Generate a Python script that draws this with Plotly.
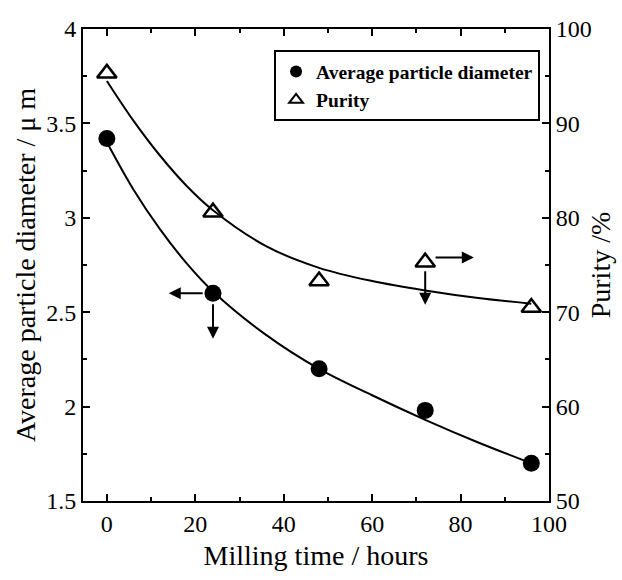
import plotly.graph_objects as go

# measured data
milling_hours = [0, 24, 48, 72, 96]
diameter_um = [3.42, 2.60, 2.20, 1.98, 1.70]
purity_pct = [95.3, 80.6, 73.3, 75.3, 70.5]

# fitted curves
curve_hours = [0, 6, 12, 18, 24, 36, 48, 60, 72, 84, 96]
diameter_curve = [3.40, 3.15, 2.94, 2.76, 2.61, 2.38, 2.20, 2.06, 1.93, 1.81, 1.70]
purity_curve = [94.5, 90.3, 86.6, 83.4, 80.8, 77.0, 74.7, 73.3, 72.3, 71.5, 70.9]

FONT = "Liberation Serif"

fig = go.Figure()
fig.add_trace(go.Scatter(x=curve_hours, y=diameter_curve, mode="lines",
                         line=dict(color="black", width=2, shape="spline"),
                         showlegend=False, hoverinfo="skip"))
fig.add_trace(go.Scatter(x=curve_hours, y=purity_curve, mode="lines", yaxis="y2",
                         line=dict(color="black", width=2, shape="spline"),
                         showlegend=False, hoverinfo="skip"))
fig.add_trace(go.Scatter(x=milling_hours, y=diameter_um, mode="markers",
                         name="Average particle diameter",
                         marker=dict(symbol="circle", size=17, color="black")))
fig.add_trace(go.Scatter(x=milling_hours, y=purity_pct, mode="markers", yaxis="y2",
                         name="Purity",
                         marker=dict(symbol="triangle-up-open", size=17, color="black",
                                     line=dict(width=2.5, color="black"))))

arrow = dict(showarrow=True, arrowhead=2, arrowsize=1.2, arrowwidth=2,
             arrowcolor="black", text="")
fig.add_annotation(x=14, y=2.60, ax=22, ay=2.60, xref="x", yref="y",
                   axref="x", ayref="y", **arrow)
fig.add_annotation(x=24, y=2.36, ax=24, ay=2.55, xref="x", yref="y",
                   axref="x", ayref="y", **arrow)
fig.add_annotation(x=83, y=75.8, ax=74, ay=75.8, xref="x", yref="y2",
                   axref="x", ayref="y2", **arrow)
fig.add_annotation(x=72, y=70.8, ax=72, ay=74.5, xref="x", yref="y2",
                   axref="x", ayref="y2", **arrow)

axis_common = dict(showgrid=False, zeroline=False, showline=True, linecolor="black",
                   linewidth=2, ticks="inside", ticklen=7, tickwidth=2, tickcolor="black",
                   tickfont=dict(family=FONT, size=24, color="black"))

fig.update_layout(
    width=622, height=580,
    margin=dict(l=83, r=73, t=29, b=79),
    paper_bgcolor="white", plot_bgcolor="white",
    xaxis=dict(range=[-5.4, 100], dtick=20, tick0=0, mirror="ticks",
               minor=dict(dtick=10, ticks="inside", ticklen=4, tickwidth=2, tickcolor="black"),
               title=dict(text="Milling time / hours", font=dict(family=FONT, size=28, color="black"),
                          standoff=10),
               **axis_common),
    yaxis=dict(range=[1.5, 4], dtick=0.5, tick0=1.5,
               minor=dict(dtick=0.25, ticks="inside", ticklen=4, tickwidth=2, tickcolor="black"),
               title=dict(text="Average particle diameter / μ m",
                          font=dict(family=FONT, size=28, color="black"), standoff=2),
               **axis_common),
    yaxis2=dict(range=[50, 100], dtick=10, tick0=50, overlaying="y", side="right",
                minor=dict(dtick=5, ticks="inside", ticklen=4, tickwidth=2, tickcolor="black"),
                title=dict(text="Purity /%", font=dict(family=FONT, size=28, color="black"),
                           standoff=0),
                **axis_common),
    legend=dict(x=0.41, y=0.955, xanchor="left", yanchor="top",
                bgcolor="white", bordercolor="black", borderwidth=2,
                font=dict(family=FONT, size=19.5, color="black", weight="bold"),
                itemsizing="constant", tracegroupgap=0),
)

fig.write_html("out.html")
